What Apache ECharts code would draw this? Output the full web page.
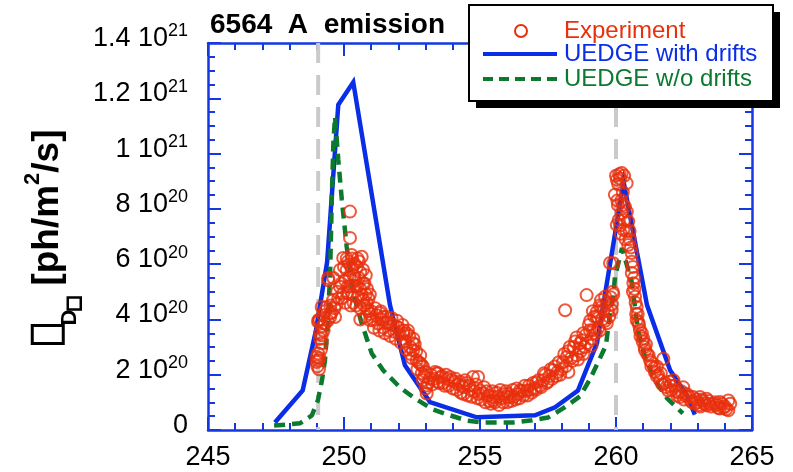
<!DOCTYPE html>
<html>
<head>
<meta charset="utf-8">
<script src="https://cdn.jsdelivr.net/npm/echarts@6/dist/echarts.min.js"></script>
<style>
  html, body { margin: 0; padding: 0; background: #ffffff; }
  #chart { width: 793px; height: 472px; }
</style>
</head>
<body>
<div id="chart"></div>
<script>
// Intensities are in units of 1e20 ph/m^2/s, positions on the x axis as plotted.

// UEDGE with drifts
const driftX = [247.46, 248.48, 248.97, 249.38, 249.79, 250.34, 251.69, 252.24, 253.16, 254.88,
                257.02, 257.76, 258.60, 259.30, 260.28, 261.14, 261.99, 262.61, 262.90];
const driftY = [0.27, 1.43, 3.61, 6.08, 11.77, 12.58, 4.52, 2.34, 1.01, 0.46,
                0.53, 0.82, 1.43, 3.14, 8.98, 4.52, 2.16, 1.25, 0.56];

// UEDGE without drifts
const noDriftX = [247.43, 248.38, 248.82, 249.04, 249.19, 249.30, 249.41, 249.49, 249.55, 249.61,
                  249.67, 249.79, 249.92, 250.10, 250.34, 250.65, 251.02, 251.44, 252.06, 252.61,
                  253.27, 253.90, 254.52, 255.11, 256.21, 256.84, 257.50, 258.05, 258.68, 259.04,
                  259.34, 259.63, 259.78, 259.90, 259.96, 260.07, 260.22, 260.58, 260.81, 261.07,
                  261.43, 261.88, 262.46];
const noDriftY = [0.16, 0.24, 0.53, 1.07, 1.80, 2.52, 3.97, 5.68, 8.33, 10.39,
                  11.33, 9.77, 8.33, 6.62, 4.95, 3.86, 2.77, 2.16, 1.54, 1.14,
                  0.74, 0.53, 0.34, 0.27, 0.27, 0.34, 0.45, 0.78, 1.22, 1.83,
                  2.45, 3.06, 4.23, 4.81, 5.53, 5.97, 6.58, 5.35, 3.61, 2.63,
                  1.80, 1.14, 0.60];

// Experiment, first peak and its decay: [x, intensity]
const expPeak1 = [
  [249.00,2.46],[249.05,2.77],[249.02,2.30],[249.10,2.60],[249.18,3.14],[249.18,3.43],[249.12,3.30],
  [249.05,3.91],[249.24,4.15],[249.10,4.00],[249.49,4.09],[249.36,4.45],[249.30,3.85],[249.20,3.75],
  [249.40,3.95],[249.55,4.25],[249.65,4.40],[249.73,4.55],[249.92,4.77],[249.79,4.76],[249.97,4.94],
  [249.42,5.50],[249.61,5.50],[249.85,5.79],[249.85,5.18],[249.42,5.42],[249.97,6.22],[250.10,5.79],
  [250.22,5.18],[250.28,6.33],[250.65,6.27],[250.22,6.95],[250.22,7.90],[250.47,5.90],[250.15,6.10],
  [250.35,5.60],[250.40,5.20],[250.50,4.80],[250.55,5.50],[250.60,5.10],[250.70,4.70],[250.75,5.30],
  [250.30,4.90],[250.45,4.50],[250.60,4.40],[250.80,4.90],[250.85,4.40],[250.90,4.75],[250.95,4.20],
  [250.40,6.00],[250.55,6.10],[250.30,5.85],[250.70,5.80],[250.84,4.59],[250.96,3.97],[250.20,5.50],
  [250.05,5.40],[250.12,4.95],[250.60,4.00],[250.78,4.10],[249.06,3.97],[249.49,4.21],[249.67,4.09],
  [249.18,4.45],[249.00,2.64],[249.06,2.52],[249.12,3.49],
  [250.00,5.90],[250.10,6.20],[250.20,6.00],[250.30,6.20],[250.40,5.40],[250.50,5.20],[250.50,6.20],
  [250.60,5.70],[250.65,4.90],[250.70,5.30],[250.75,4.50],[250.80,5.60],[250.85,5.10],[250.90,4.30],
  [250.95,4.90],[250.35,4.60],[250.25,4.50],[250.15,5.20],[250.05,4.60],[249.90,5.30],[249.75,5.00],
  [249.60,4.70],[249.50,4.50],[249.30,4.30],[249.25,3.60],[249.15,2.90],[249.08,2.20],
  [251.00,4.30],[251.10,3.70],[251.20,4.15],[251.30,3.60],[251.32,4.23],[251.40,4.00],[251.44,4.09],
  [251.50,3.50],[251.57,3.86],[251.60,3.90],[251.69,3.86],[251.70,3.40],[251.80,3.80],[251.90,3.30],
  [251.94,3.73],[252.00,3.70],[252.10,3.15],[252.17,3.50],[252.20,3.60],[252.30,3.50],[252.30,2.90],
  [252.40,3.40],[252.43,3.00],[252.50,2.60],[252.54,3.14],[252.54,2.88],[252.60,3.10],[252.67,2.52],
  [252.70,2.20],[252.79,2.41],[252.80,2.70],[252.86,2.05],[252.90,1.80],[252.90,2.30],[253.00,2.10],
  [253.04,1.61],[253.04,1.32],[253.10,1.70],
  [251.05,4.00],[251.15,4.40],[251.25,3.85],[251.35,4.30],[251.45,3.70],[251.55,4.10],[251.65,3.60],
  [251.75,4.05],[251.85,3.55],[251.95,3.95],[252.05,3.45],[252.15,3.80],[252.25,3.20],[252.35,3.60],
  [252.45,2.75],[252.55,3.30],[252.65,2.85],[252.75,2.45],[252.85,2.35],[252.95,1.95],[253.00,1.50]
];

// Experiment, trough between the peaks
const expTrough = [
  [253.20,2.00],[253.30,1.85],[253.41,2.05],[253.46,2.05],[253.50,1.70],[253.60,1.95],[253.70,1.60],
  [253.80,1.85],[253.90,1.92],[254.00,1.50],[254.05,1.75],[254.20,1.65],[254.30,1.35],[254.38,1.55],
  [254.45,1.80],[254.55,1.25],[254.60,1.60],[254.74,1.92],[254.93,1.92],[254.80,1.40],[254.90,1.15],
  [255.00,1.43],[255.11,1.32],[255.20,1.00],[255.30,1.25],[255.40,0.95],[255.48,1.19],[255.48,1.07],
  [255.60,1.35],[255.70,0.90],[255.80,1.15],[255.90,1.30],[255.98,1.19],[256.00,1.00],[256.10,1.19],
  [256.20,1.45],[256.30,1.10],[256.40,1.30],[256.47,1.43],[256.60,1.25],[256.72,1.43],[256.80,1.60],
  [256.90,1.35],[257.00,1.50],[257.08,1.73],[257.20,1.60],[257.32,1.80],[257.40,2.00],[257.50,1.75],
  [257.60,2.20],[257.68,2.16],[257.80,1.95],[257.90,2.45],[258.00,2.20],[258.10,2.75],[258.13,4.33],
  [258.19,2.64],[258.25,2.10],
  [253.15,1.85],[253.25,1.65],[253.35,2.10],[253.45,1.75],[253.55,1.90],[253.65,1.70],[253.75,2.00],
  [253.85,1.60],[253.95,1.80],[254.10,1.85],[254.15,1.45],[254.25,1.75],[254.35,1.60],[254.40,1.30],
  [254.50,1.70],[254.65,1.45],[254.70,1.20],[254.85,1.65],[254.95,1.30],[255.05,1.10],[255.15,1.55],
  [255.25,1.40],[255.35,1.05],[255.45,1.40],[255.55,1.00],[255.65,1.20],[255.75,1.45],[255.85,1.00],
  [255.95,1.40],[256.05,1.30],[256.15,1.05],[256.25,1.20],[256.35,1.50],[256.45,1.15],[256.55,1.40],
  [256.65,1.60],[256.75,1.25],[256.85,1.45],[256.95,1.70],[257.05,1.45],[257.15,1.80],[257.25,1.55],
  [257.35,2.05],[257.45,1.70],[257.55,1.95],[257.65,1.85],[257.75,2.30],[257.85,2.10],[257.95,2.00]
];

// Experiment, second peak and its decay
const expPeak2 = [
  [258.30,3.00],[258.40,2.50],[258.50,3.20],[258.55,2.70],[258.68,3.14],[258.70,2.85],[258.80,3.50],
  [258.85,3.00],[258.92,4.88],[259.00,3.80],[259.04,3.61],[259.10,3.30],[259.15,3.61],[259.20,4.10],
  [259.29,4.09],[259.29,4.27],[259.35,3.70],[259.40,4.50],[259.47,4.45],[259.50,4.00],[259.60,4.82],
  [259.66,3.86],[259.70,4.30],[259.78,6.04],[259.84,4.33],[259.90,6.03],[259.80,4.80],[259.88,5.00],
  [258.05,2.45],[258.15,2.30],[258.25,2.85],[258.35,2.60],[258.45,3.00],[258.55,3.35],[258.60,2.55],
  [258.65,2.95],[258.75,3.25],[258.80,2.75],[258.90,3.45],[258.95,3.15],[259.05,3.95],[259.10,3.05],
  [259.15,4.30],[259.25,3.50],[259.35,4.05],[259.40,3.60],[259.45,4.70],[259.55,4.35],[259.60,3.95],
  [259.65,4.60],[259.75,4.10],[259.85,4.55],[259.90,4.90],
  [260.03,7.42],[259.96,8.51],[260.03,9.05],[260.21,9.30],[260.12,9.25],[260.15,9.10],[260.30,9.20],
  [260.39,8.93],[260.33,8.08],[260.21,7.85],[260.45,7.54],[260.27,7.24],[260.10,7.60],[260.18,7.10],
  [260.35,6.90],[260.45,6.69],[260.58,6.40],[260.50,6.90],[260.58,6.09],[260.58,5.68],[260.64,5.31],
  [260.62,5.00],[260.70,4.82],[260.72,4.60],[260.76,4.45],[260.76,3.97],[260.80,4.20],[260.88,3.61],
  [260.85,3.80],[261.00,3.31],[260.95,3.50],[261.07,2.88],[261.10,3.10],[261.25,2.52],[261.20,2.70],
  [261.30,2.30],[261.74,2.58],[261.43,2.10],[261.50,2.30],[261.62,1.80],[261.55,2.00],[262.11,1.80],
  [261.92,1.43],[261.80,1.70],[262.00,1.60],[262.20,1.40],[262.47,1.55],[262.35,1.19],[262.30,1.35],
  [262.60,1.30],[262.84,1.19],[262.75,1.05],[263.09,1.19],[263.00,1.00],[263.20,1.05],[263.33,1.13],
  [263.45,0.95],[263.58,0.95],[263.70,0.90],[263.82,1.01],[264.13,1.07],[264.13,0.71],[263.82,0.78],
  [263.33,0.89],[263.95,0.80],[264.05,0.75],[262.90,0.95],[263.10,0.85],[260.07,8.14],[260.26,8.14],
  [260.00,9.20],[260.08,8.90],[260.25,8.60],[260.20,8.30],[260.05,8.30],[260.15,7.40],[260.30,7.60],
  [260.38,7.20],[260.40,7.90],[260.50,7.20],[260.55,6.60],[260.62,5.90],[260.66,5.50],[260.68,5.10],
  [260.74,4.20],[260.82,3.90],[260.90,3.40],[260.98,3.20],[261.05,3.00],[261.15,2.75],[261.30,2.45],
  [261.40,2.25],[261.50,1.95],[261.65,2.05],[261.70,1.65],[261.85,1.55],[261.95,1.75],[262.05,1.45],
  [262.15,1.60],[262.25,1.25],[262.40,1.40],[262.50,1.10],[262.55,1.25],[262.70,1.20],[262.80,1.00],
  [262.95,1.10],[263.05,0.90],[263.15,1.10],[263.25,0.95],[263.40,1.05],[263.50,0.85],[263.65,1.00],
  [263.75,0.80],[263.90,0.95],[264.00,0.85],[264.20,0.95]
];

// Reference positions marked with grey dashed verticals
const guideX = [249.05, 260.0];

// Tick labels on the intensity axis: mantissa and power of ten
const yTickValues = [0, 2, 4, 6, 8, 10, 12, 14];
const yTickMantissa = ['0', '2', '4', '6', '8', '1', '1.2', '1.4'];
const yTickPower = ['', '20', '20', '20', '20', '21', '21', '21'];

const AXIS_BLUE = '#1538e0';
const LINE_BLUE = '#0a2ee8';
const RED = '#e8300c';
const GREEN = '#0c7a2e';
const GREY = '#cacaca';
const FONT = 'Liberation Sans, Arial, Helvetica, sans-serif';

const zip = (xs, ys) => xs.map((x, i) => [x, ys[i]]);

const chart = echarts.init(document.getElementById('chart'), null, { renderer: 'canvas' });

function axisCommon(extra) {
  return Object.assign({
    type: 'value',
    axisLine: { show: true, onZero: false, lineStyle: { color: AXIS_BLUE, width: 2.5 } },
    axisTick: { show: true, inside: true, length: 13, lineStyle: { color: AXIS_BLUE, width: 2 } },
    splitLine: { show: false },
    minorSplitLine: { show: false }
  }, extra);
}

const guideSeries = guideX.map(x => ({
  type: 'line',
  data: [[x, 14], [x, 0]],
  symbol: 'none',
  silent: true,
  z: 1,
  lineStyle: { color: GREY, width: 4, type: [20, 12] }
}));

const option = {
  animation: false,
  backgroundColor: '#ffffff',
  title: {
    text: '6564  A  emission',
    left: 205,
    top: 6,
    textStyle: { fontFamily: FONT, fontSize: 28, fontWeight: 'bold', color: '#000' }
  },
  grid: { left: 208, right: 41, top: 43, bottom: 42, outerBoundsMode: 'none', containLabel: false },
  xAxis: [
    axisCommon({
      min: 245, max: 265, interval: 5, position: 'bottom',
      minorTick: { show: true, splitNumber: 5, length: 7, lineStyle: { color: AXIS_BLUE, width: 2 } },
      axisLabel: { show: true, margin: 14, fontFamily: FONT, fontSize: 27, color: '#000' }
    }),
    axisCommon({
      min: 245, max: 265, interval: 5, position: 'top',
      minorTick: { show: true, splitNumber: 5, length: 7, lineStyle: { color: AXIS_BLUE, width: 2 } },
      axisLabel: { show: false }
    })
  ],
  yAxis: [
    axisCommon({
      min: 0, max: 14, interval: 2, position: 'left',
      minorTick: { show: true, splitNumber: 4, length: 7, lineStyle: { color: AXIS_BLUE, width: 2 } },
      axisLabel: {
        show: true, margin: 20, color: '#000', fontFamily: FONT,
        formatter: v => {
          const i = yTickValues.indexOf(v);
          if (i < 0) return '';
          return yTickPower[i]
            ? '{m|' + yTickMantissa[i] + ' 10}{e|' + yTickPower[i] + '}'
            : '{m|' + yTickMantissa[i] + '}';
        },
        rich: {
          m: { fontFamily: FONT, fontSize: 27, color: '#000', padding: [0, 0, 9, 0] },
          e: { fontFamily: FONT, fontSize: 18, color: '#000', padding: [0, 0, 23, 0] }
        }
      },
      name: '{bx|}{sub|D}{sb|}{gp|}{t|[ph/m}{sup|2}{t|/s]}',
      nameLocation: 'middle',
      nameRotate: 90,
      nameGap: 124,
      nameTextStyle: {
        color: '#000',
        rich: {
          t: { fontFamily: FONT, fontSize: 37, fontWeight: 'bold', color: '#000', lineHeight: 66 },
          sup: { fontFamily: FONT, fontSize: 22, fontWeight: 'bold', color: '#000', padding: [0, 0, 30, 0] },
          sub: { fontFamily: FONT, fontSize: 22, fontWeight: 'bold', color: '#000', verticalAlign: 'bottom' },
          bx: { width: 18, height: 31, borderColor: '#000', borderWidth: 3, verticalAlign: 'middle' },
          sb: { width: 12, height: 13, borderColor: '#000', borderWidth: 2.5, verticalAlign: 'bottom' },
          gp: { width: 12 }
        }
      }
    }),
    axisCommon({
      min: 0, max: 14, interval: 2, position: 'right',
      minorTick: { show: true, splitNumber: 4, length: 7, lineStyle: { color: AXIS_BLUE, width: 2 } },
      axisLabel: { show: false }
    })
  ],
  series: guideSeries.concat([
    {
      name: 'UEDGE with drifts',
      type: 'line',
      data: zip(driftX, driftY),
      symbol: 'none',
      z: 3,
      lineStyle: { color: LINE_BLUE, width: 4.5, join: 'miter' }
    },
    {
      name: 'UEDGE w/o drifts',
      type: 'line',
      data: zip(noDriftX, noDriftY),
      symbol: 'none',
      z: 4,
      lineStyle: { color: GREEN, width: 4.5, type: [11, 7] }
    },
    {
      name: 'Experiment',
      type: 'scatter',
      data: expPeak1.concat(expTrough, expPeak2),
      symbol: 'circle',
      symbolSize: 12,
      z: 5,
      itemStyle: { color: 'rgba(0,0,0,0)', borderColor: RED, borderWidth: 2 }
    }
  ]),
  graphic: [
    { type: 'rect', z: 100, shape: { x: 476, y: 12, width: 304, height: 96 }, style: { fill: '#000' } },
    { type: 'rect', z: 101, shape: { x: 469, y: 5, width: 304, height: 96 }, style: { fill: '#fff', stroke: '#000', lineWidth: 2 } },
    { type: 'circle', z: 102, shape: { cx: 521, cy: 31, r: 6 }, style: { fill: 'none', stroke: RED, lineWidth: 2 } },
    { type: 'line', z: 102, shape: { x1: 483, y1: 54, x2: 557, y2: 54 }, style: { stroke: LINE_BLUE, lineWidth: 4 } },
    { type: 'line', z: 102, shape: { x1: 483, y1: 79, x2: 557, y2: 79 }, style: { stroke: GREEN, lineWidth: 4, lineDash: [10, 6] } },
    { type: 'text', z: 102, x: 564, y: 31, style: { text: 'Experiment', fill: RED, font: '24px ' + FONT, verticalAlign: 'middle' } },
    { type: 'text', z: 102, x: 564, y: 54, style: { text: 'UEDGE with drifts', fill: LINE_BLUE, font: '24px ' + FONT, verticalAlign: 'middle' } },
    { type: 'text', z: 102, x: 564, y: 79, style: { text: 'UEDGE w/o drifts', fill: GREEN, font: '24px ' + FONT, verticalAlign: 'middle' } }
  ]
};

chart.setOption(option);
</script>
</body>
</html>
